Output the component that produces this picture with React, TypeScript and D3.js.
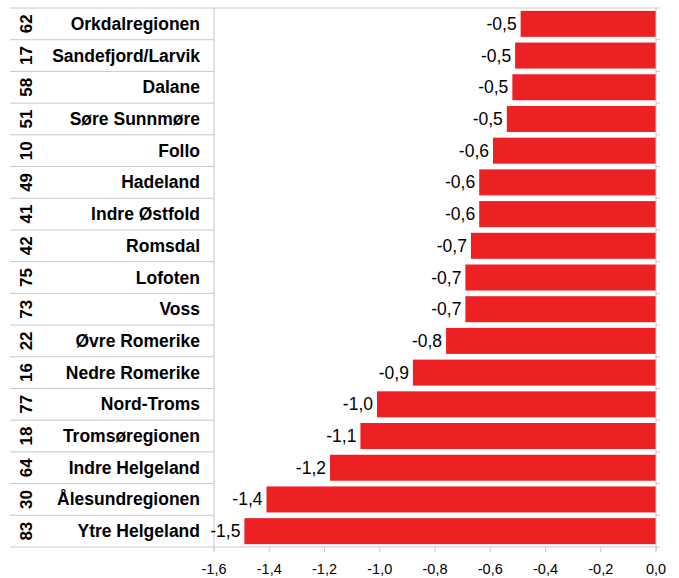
import * as d3 from 'd3';

const codes = ['62', '17', '58', '51', '10', '49', '41', '42', '75', '73', '22', '16', '77', '18', '64', '30', '83'];
const regions = [
  'Orkdalregionen', 'Sandefjord/Larvik', 'Dalane', 'Søre Sunnmøre', 'Follo', 'Hadeland',
  'Indre Østfold', 'Romsdal', 'Lofoten', 'Voss', 'Øvre Romerike', 'Nedre Romerike',
  'Nord-Troms', 'Tromsøregionen', 'Indre Helgeland', 'Ålesundregionen', 'Ytre Helgeland',
];
const values = [-0.49, -0.51, -0.52, -0.54, -0.59, -0.64, -0.64, -0.67, -0.69, -0.69, -0.76, -0.88, -1.01, -1.07, -1.18, -1.41, -1.49];
const xTicks = [-1.6, -1.4, -1.2, -1.0, -0.8, -0.6, -0.4, -0.2, 0];

const W = 679;
const H = 578;
const top = 8;
const bottom = 547;
const tableLeft = 10;
const plotLeft = 214;
const plotRight = 656;
const grid = '#c9c9c9';
const font = 'Arial, "Liberation Sans", sans-serif';

export default function App() {
  const x = d3.scaleLinear().domain([-1.6, 0]).range([plotLeft, plotRight]);
  const y = d3.scaleBand<string>().domain(regions).range([top, bottom]).paddingInner(0.18).paddingOuter(0.09);
  const step = y.step();
  const rowTop = (i: number) => top + i * step;
  const fmt = (v: number) => d3.format('.1f')(v).replace('.', ',').replace('−', '-');

  return (
    <svg width={W} height={H} style={{ position: 'absolute', left: 0, top: 0, background: '#fff' }} fontFamily={font}>
      {/* table lines */}
      {d3.range(regions.length + 1).map(i => (
        <line key={'r' + i} x1={tableLeft} x2={i === 0 ? plotRight : plotLeft} y1={rowTop(i)} y2={rowTop(i)} stroke={grid} />
      ))}
      {/* category ticks on the zero line */}
      {d3.range(regions.length + 1).map(i => (
        <line key={'ct' + i} x1={plotRight} x2={plotRight + 4} y1={rowTop(i)} y2={rowTop(i)} stroke={grid} />
      ))}
      {/* bars */}
      {regions.map((r, i) => (
        <rect key={r} x={x(values[i])} y={y(r)} width={x(0) - x(values[i])} height={y.bandwidth()} fill="#ed2024" />
      ))}
      {/* axes */}
      <line x1={plotLeft} x2={plotLeft} y1={top} y2={bottom + 4} stroke={grid} />
      <line x1={plotRight} x2={plotRight} y1={top} y2={bottom + 4} stroke={grid} />
      <line x1={plotLeft} x2={plotRight} y1={bottom} y2={bottom} stroke={grid} />
      {xTicks.map(t => (
        <g key={t}>
          <line x1={x(t)} x2={x(t)} y1={bottom} y2={bottom + 5} stroke={grid} />
          <text x={x(t)} y={574} textAnchor="middle" fontSize={14.5} fill="#000">{fmt(t)}</text>
        </g>
      ))}
      {/* labels */}
      {regions.map((r, i) => {
        const cy = rowTop(i) + step / 2;
        return (
          <g key={'l' + r}>
            <text transform={`translate(26,${cy}) rotate(-90)`} textAnchor="middle" dominantBaseline="central" fontSize={17} fontWeight="bold" fill="#000">{codes[i]}</text>
            <text x={200} y={cy} textAnchor="end" dominantBaseline="central" fontSize={17.5} fontWeight="bold" fill="#000">{r}</text>
            <text x={x(values[i]) - 4} y={cy} textAnchor="end" dominantBaseline="central" fontSize={17.5} fill="#000">{fmt(values[i])}</text>
          </g>
        );
      })}
    </svg>
  );
}
